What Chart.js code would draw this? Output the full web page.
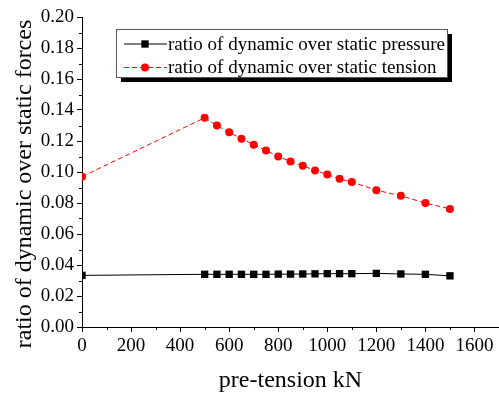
<!DOCTYPE html>
<html>
<head>
<meta charset="utf-8">
<script src="https://cdn.jsdelivr.net/npm/chart.js@4/dist/chart.umd.min.js"></script>
<style>
html,body{margin:0;padding:0;background:#fff;}
#wrap{width:499px;height:395px;}
</style>
</head>
<body>
<div id="wrap"><canvas id="c" width="499" height="395"></canvas></div>
<script>
const preTension = [0, 500, 550, 600, 650, 700, 750, 800, 850, 900, 950, 1000, 1050, 1100, 1200, 1300, 1400, 1500];
const pressureRatio = [0.0333, 0.0340, 0.0340, 0.0340, 0.0340, 0.0340, 0.0340, 0.0341, 0.0341, 0.0342, 0.0343, 0.0344, 0.0344, 0.0344, 0.0346, 0.0342, 0.0340, 0.0330];
const tensionRatio = [0.097, 0.135, 0.130, 0.1256, 0.1215, 0.1176, 0.1139, 0.110, 0.1068, 0.104, 0.101, 0.0984, 0.0956, 0.0935, 0.0883, 0.0846, 0.080, 0.0762];
const seriesNames = ['ratio of dynamic over static pressure', 'ratio of dynamic over static tension'];
const xTitle = 'pre-tension kN';
const yTitle = 'ratio of dynamic over static forces';

const FONT = '"Liberation Serif", "Times New Roman", serif';

const legendPlugin = {
  id: 'boxLegend',
  afterDraw(chart) {
    const ctx = chart.ctx;
    const x0 = 116, y0 = 29, w = 331, h = 48;
    ctx.save();
    ctx.fillStyle = '#000';
    ctx.fillRect(x0 + 5, y0 + 5, w, h);
    ctx.fillStyle = '#fff';
    ctx.fillRect(x0, y0, w, h);
    ctx.strokeStyle = '#555';
    ctx.lineWidth = 1;
    ctx.strokeRect(x0 + 0.5, y0 + 0.5, w, h);
    const rows = [44, 67.5];
    chart.data.datasets.forEach((ds, i) => {
      const y = rows[i];
      ctx.strokeStyle = ds.borderColor;
      ctx.lineWidth = 1;
      ctx.setLineDash(ds.borderDash || []);
      ctx.beginPath();
      ctx.moveTo(124, y);
      ctx.lineTo(167, y);
      ctx.stroke();
      ctx.setLineDash([]);
      ctx.fillStyle = ds.backgroundColor;
      ctx.beginPath();
      if (ds.pointStyle === 'rect') {
        const s = ds.pointRadius * Math.SQRT1_2;
        ctx.rect(145 - s, y - s, 2 * s, 2 * s);
      } else {
        ctx.arc(145, y, ds.pointRadius, 0, Math.PI * 2);
      }
      ctx.fill();
      ctx.fillStyle = '#000';
      ctx.font = '19px ' + FONT;
      ctx.textBaseline = 'middle';
      ctx.textAlign = 'left';
      ctx.fillText(ds.label, 168, y + 1);
    });
    ctx.restore();
  }
};

const yTitlePlugin = {
  id: 'yTitle',
  afterDraw(chart) {
    const ctx = chart.ctx;
    ctx.save();
    ctx.translate(31, 184);
    ctx.rotate(-Math.PI / 2);
    ctx.fillStyle = '#000';
    ctx.font = '24px ' + FONT;
    ctx.textAlign = 'center';
    ctx.textBaseline = 'alphabetic';
    ctx.fillText(yTitle, 0, 0);
    ctx.restore();
  }
};

const minorTickPlugin = {
  id: 'minorTicks',
  afterDatasetsDraw(chart) {
    const ctx = chart.ctx;
    const xs = chart.scales.x, ys = chart.scales.y;
    ctx.save();
    ctx.strokeStyle = '#000';
    ctx.lineWidth = 1;
    ctx.beginPath();
    xs.ticks.forEach(t => {
      if (Math.round(t.value / 100) % 2 === 1) {
        const px = Math.round(xs.getPixelForValue(t.value)) + 0.5;
        ctx.moveTo(px, xs.top);
        ctx.lineTo(px, xs.top + 3);
      }
    });
    ys.ticks.forEach(t => {
      if (Math.round(t.value * 100) % 2 === 1) {
        const py = Math.round(ys.getPixelForValue(t.value)) + 0.5;
        ctx.moveTo(ys.right, py);
        ctx.lineTo(ys.right - 3, py);
      }
    });
    ctx.stroke();
    ctx.restore();
  }
};

function build() {
  new Chart(document.getElementById('c'), {
    type: 'line',
    data: {
      datasets: [
        {
          label: seriesNames[0],
          data: preTension.map((x, i) => ({x: x, y: pressureRatio[i]})),
          borderColor: '#000',
          backgroundColor: '#000',
          borderWidth: 1,
          pointStyle: 'rect',
          pointRadius: 5.2,
          pointBorderWidth: 0,
          pointBackgroundColor: '#000',
          tension: 0,
          clip: 0
        },
        {
          label: seriesNames[1],
          data: preTension.map((x, i) => ({x: x, y: tensionRatio[i]})),
          borderColor: '#ff0000',
          backgroundColor: '#ff0000',
          borderWidth: 1,
          borderDash: [5, 3],
          pointStyle: 'circle',
          pointRadius: 4,
          pointBorderWidth: 0,
          pointBackgroundColor: '#ff0000',
          tension: 0,
          clip: 0
        }
      ]
    },
    options: {
      responsive: false,
      animation: false,
      layout: {autoPadding: false, padding: {top: 17, left: 0, right: 0, bottom: 0}},
      plugins: {legend: {display: false}, tooltip: {enabled: false}},
      scales: {
        x: {
          type: 'linear',
          min: 0,
          max: 1700,
          border: {display: true, color: '#000', width: 1},
          grid: {
            drawOnChartArea: false,
            drawTicks: true,
            tickLength: 5,
            tickColor: ctx => (Math.round(ctx.tick.value / 100) % 2 === 0 ? '#000' : 'rgba(0,0,0,0)')
          },
          ticks: {
            stepSize: 100,
            autoSkip: false,
            maxRotation: 0,
            color: '#000',
            padding: 3,
            font: {family: FONT, size: 19},
            callback: v => (Math.round(v / 100) % 2 === 0 && v < 1700 ? String(v) : '')
          },
          title: {
            display: true,
            text: xTitle,
            color: '#000',
            font: {family: FONT, size: 24},
            padding: {top: 4, bottom: 0}
          },
          afterFit: s => { s.height = 68; s.paddingRight = 0; s.paddingLeft = 0; }
        },
        y: {
          type: 'linear',
          min: 0,
          max: 0.2,
          border: {display: true, color: '#000', width: 1},
          grid: {
            drawOnChartArea: false,
            drawTicks: true,
            tickLength: 5,
            tickColor: ctx => (Math.round(ctx.tick.value * 100) % 2 === 0 ? '#000' : 'rgba(0,0,0,0)')
          },
          ticks: {
            stepSize: 0.01,
            autoSkip: false,
            color: '#000',
            padding: 3,
            font: {family: FONT, size: 19},
            callback: v => (Math.round(v * 100) % 2 === 0 ? v.toFixed(2) : '')
          },
          afterFit: s => { s.width = 82; }
        }
      }
    },
    plugins: [minorTickPlugin, legendPlugin, yTitlePlugin]
  });
}

if (document.fonts && document.fonts.load) {
  Promise.all([
    document.fonts.load('19px "Liberation Serif"'),
    document.fonts.load('24px "Liberation Serif"')
  ]).then(build, build);
} else {
  build();
}
</script>
</body>
</html>
